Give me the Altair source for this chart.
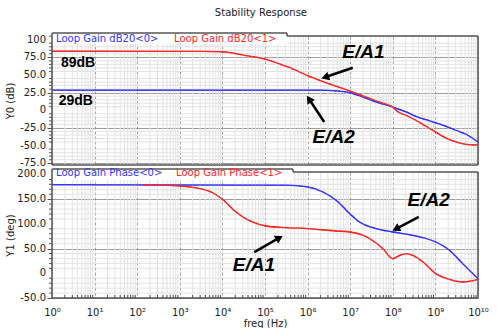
import math
import altair as alt
import pandas as pd

# ---------------- data (decade exponents of frequency, values) ----------------
gain0_exp = [0, 6.3, 6.67, 6.98, 7.29, 7.6, 8.0, 8.31, 8.54, 8.78, 9.01, 9.25, 9.48, 9.72, 10.0]
gain0_val = [28.5, 28.5, 27.5, 25.0, 19.0, 12.0, 4.5, -2.4, -8.5, -13.3, -18.0, -22.7, -28.3, -34.0, -45.0]

gain1_exp = [0, 3.5, 3.9, 4.1, 4.3, 4.6, 5.0, 5.3, 5.6, 6.0, 6.3, 6.6, 7.0, 7.3, 7.6, 7.9, 8.0, 8.1,
             8.31, 8.54, 8.78, 9.01, 9.25, 9.48, 9.72, 10.0]
gain1_val = [83.6, 83.5, 83.2, 82.3, 80.4, 77.0, 72.5, 66.5, 60.0, 49.0, 42.0, 35.5, 27.0, 20.5, 13.5,
             7.5, 4.5, -1.5, -7.0, -14.2, -22.7, -31.0, -39.5, -44.8, -48.2, -49.2]

phase0_exp = [0, 5.49, 6.0, 6.36, 6.67, 6.99, 7.22, 7.61, 8.0, 8.47, 9.01, 9.33, 9.64, 10.0]
phase0_val = [179.5, 178.5, 174.7, 164.6, 147.8, 120.7, 103.8, 90.3, 83.6, 76.9, 63.3, 46.6, 19.6, -10.9]

phase1_exp = [2.13, 2.76, 3.39, 3.77, 4.0, 4.32, 4.5, 4.7, 5.02, 5.49, 6.0, 6.67, 6.99, 7.3, 7.46,
              7.77, 8.0, 8.16, 8.32, 8.47, 8.71, 9.01, 9.33, 9.64, 10.0]
phase1_val = [179.0, 178.0, 172.7, 163.0, 150.0, 124.0, 113.0, 104.0, 95.7, 92.3, 90.3, 85.6, 83.6,
              77.0, 70.0, 49.8, 29.6, 36.4, 39.7, 36.4, 23.0, -0.8, -12.1, -17.6, -12.1]

series_names = ["<0>", "<1>"]
gain_legend = ["Loop Gain dB20<0>", "Loop Gain dB20<1>"]
phase_legend = ["Loop Gain Phase<0>", "Loop Gain Phase<1>"]

# annotations (exponent, value)
top_text = ["E/A1", "E/A2", "89dB", "29dB"]
top_text_exp = [7.31, 6.61, 0.61, 0.56]
top_text_val = [83.0, -37.8, 67.0, 13.2]
top_arrow_tail = [(7.06, 60.3), (6.39, -16.6)]
top_arrow_head = [(6.44, 47.5), (6.05, 14.5)]

bot_text = ["E/A2", "E/A1"]
bot_text_exp = [8.84, 4.74]
bot_text_val = [147.8, 16.2]
bot_arrow_tail = [(8.61, 114.0), (4.75, 43.0)]
bot_arrow_head = [(8.1, 91.0), (5.31, 70.5)]

decade_labels = ["10⁰", "10¹", "10²", "10³", "10⁴", "10⁵", "10⁶", "10⁷", "10⁸", "10⁹", "10¹⁰"]
top_major_y = [-75, -50, -25, 0, 25, 50, 75, 100]
top_major_lbl = ["-75.0", "-50.0", "-25.0", "0", "25.0", "50.0", "75.0", "100"]
top_minor_y = [v for v in range(-75, 106, 5) if v % 25 != 0]
bot_major_y = [-50, 0, 50, 100, 150, 200]
bot_major_lbl = ["-50.0", "0", "50.0", "100.0", "150.0", "200.0"]
bot_minor_y = [v for v in range(-50, 206, 10) if v % 50 != 0]
major_x = [10 ** d for d in range(11)]
minor_x = [k * 10 ** d for d in range(10) for k in range(2, 10)]

# ---------------- styling ----------------
BLUE = "#3333ff"
RED = "#ff2626"
W = 426
H_TOP = 129
H_BOT = 126
PX_DEC = W / 10.0
TOP_DOM = [-77.5, 105.2]
BOT_DOM = [-50.0, 205.0]
FONT = "DejaVu Sans"
TAB_TOP = 235
TAB_BOT = 241
MAJOR_GRID = "#9c9c9c"
MINOR_GRID = "#e3e3e3"


def line_df(exps, vals, name):
    return pd.DataFrame({"freq": [10 ** e for e in exps], "val": vals, "series": name})


gain_df = pd.concat([line_df(gain0_exp, gain0_val, "<0>"), line_df(gain1_exp, gain1_val, "<1>")])
phase_df = pd.concat([line_df(phase0_exp, phase0_val, "<0>"), line_df(phase1_exp, phase1_val, "<1>")])


def arrow_df(tails, heads, ppu):
    rows = []
    for (e1, v1), (e2, v2) in zip(tails, heads):
        dx = (e2 - e1) * PX_DEC
        dy = -(v2 - v1) * ppu
        ang = math.degrees(math.atan2(dx, -dy)) % 360
        rows.append({"freq": 10 ** e1, "val": v1, "freq2": 10 ** e2, "val2": v2, "ang": ang})
    return pd.DataFrame(rows)


labels_arr = "[" + ",".join("'" + s + "'" for s in decade_labels) + "]"
xs = alt.Scale(type="log", domain=[1, 1e10], nice=False)


def x_axis(show_labels):
    kw = dict(
        values=major_x,
        grid=True,
        gridColor=MAJOR_GRID,
        gridDash=[3, 2],
        gridWidth=1,
        ticks=False,
        domain=False,
        labelOverlap=False,
        labelFlush=False,
    )
    if show_labels:
        kw.update(
            labelExpr=labels_arr + "[round(log(datum.value)/LN10)]",
            labelPadding=9,
            title="freq (Hz)",
            titlePadding=1,
        )
    else:
        kw.update(labels=False, title=None)
    return alt.Axis(**kw)


def y_axis(vals, title):
    return alt.Axis(
        values=vals,
        grid=True,
        gridColor=MAJOR_GRID,
        gridWidth=1,
        tickSize=5,
        tickColor="#555",
        domain=False,
        labels=False,
        title=title,
        titlePadding=31,
    )


color_enc = alt.Color("series:N", scale=alt.Scale(domain=series_names, range=[BLUE, RED]), legend=None)
one = alt.Data(values=[{}])


def minor_layers(minor_y, major_y, major_lbl, height, bottom_ticks):
    layers = [
        alt.Chart(pd.DataFrame({"freq": minor_x})).mark_rule(color=MINOR_GRID, strokeWidth=1).encode(
            x="freq:Q"),
        alt.Chart(pd.DataFrame({"val": minor_y})).mark_rule(color=MINOR_GRID, strokeWidth=1).encode(
            y="val:Q"),
        alt.Chart(pd.DataFrame({"val": minor_y})).mark_rule(color="#555", strokeWidth=1).encode(
            y="val:Q", x=alt.value(-3), x2=alt.value(0)),
        alt.Chart(pd.DataFrame({"val": major_y, "lbl": major_lbl})).mark_text(
            font=FONT, fontSize=10, color="#222222", align="right", baseline="middle").encode(
            y="val:Q", x=alt.value(-6), text="lbl:N"),
    ]
    if bottom_ticks:
        layers.append(
            alt.Chart(pd.DataFrame({"freq": minor_x})).mark_rule(color="#555", strokeWidth=1).encode(
                x="freq:Q", y=alt.value(height - 3), y2=alt.value(height)))
    return layers


def frame_layers(height, tab_w):
    st = dict(color="#555555", strokeWidth=1.5)
    return [
        alt.Chart(one).mark_rect(color="white").encode(
            x=alt.value(0), x2=alt.value(tab_w), y=alt.value(-3), y2=alt.value(8)),
        alt.Chart(one).mark_rule(**st).encode(x=alt.value(0), y=alt.value(-3), y2=alt.value(height)),
        alt.Chart(one).mark_rule(**st).encode(x=alt.value(W), y=alt.value(0), y2=alt.value(height)),
        alt.Chart(one).mark_rule(**st).encode(x=alt.value(0), x2=alt.value(W), y=alt.value(height)),
        alt.Chart(one).mark_rule(**st).encode(x=alt.value(tab_w), x2=alt.value(W), y=alt.value(0)),
        alt.Chart(one).mark_rule(**st).encode(x=alt.value(0), x2=alt.value(tab_w), y=alt.value(-3)),
        alt.Chart(one).mark_rule(**st).encode(x=alt.value(tab_w), y=alt.value(-3), y2=alt.value(0)),
    ]


def legend_layers(texts, xs_px, y_px):
    return [
        alt.Chart(one).mark_text(font=FONT, fontSize=10, align="left", baseline="middle",
                                 color=c).encode(x=alt.value(xp), y=alt.value(y_px), text=alt.value(t))
        for t, xp, c in zip(texts, xs_px, [BLUE, RED])
    ]


def annotation_layers(texts, exps, vals, tails, heads, ppu):
    tdf = pd.DataFrame({"freq": [10 ** e for e in exps], "val": vals, "label": texts})
    layers = []
    big = tdf[tdf["label"].str.startswith("E/A")]
    small = tdf[~tdf["label"].str.startswith("E/A")]
    layers.append(alt.Chart(big).mark_text(font="Liberation Sans", fontSize=19, fontWeight="bold",
                                           fontStyle="italic", color="black").encode(
        x="freq:Q", y="val:Q", text="label:N"))
    if len(small):
        layers.append(alt.Chart(small).mark_text(font="Liberation Sans", fontSize=14, fontWeight="bold",
                                                 color="black").encode(
            x="freq:Q", y="val:Q", text="label:N"))
    adf = arrow_df(tails, heads, ppu)
    layers.append(alt.Chart(adf).mark_rule(color="black", strokeWidth=2.5).encode(
        x="freq:Q", x2="freq2:Q", y="val:Q", y2="val2:Q"))
    layers.append(alt.Chart(adf).mark_point(shape="triangle", filled=True, color="black", size=80,
                                            opacity=1).encode(
        x="freq2:Q", y="val2:Q", angle=alt.Angle("ang:Q", scale=None)))
    return layers


top_ppu = H_TOP / (TOP_DOM[1] - TOP_DOM[0])
bot_ppu = H_BOT / (BOT_DOM[1] - BOT_DOM[0])

top_lines = alt.Chart(gain_df).mark_line(strokeWidth=1.3, interpolate="monotone").encode(
    x=alt.X("freq:Q", scale=xs, axis=x_axis(False)),
    y=alt.Y("val:Q", scale=alt.Scale(domain=TOP_DOM, nice=False, zero=False),
            axis=y_axis(top_major_y, "Y0 (dB)")),
    color=color_enc,
)

bot_lines = alt.Chart(phase_df).mark_line(strokeWidth=1.3, interpolate="monotone").encode(
    x=alt.X("freq:Q", scale=xs, axis=x_axis(True)),
    y=alt.Y("val:Q", scale=alt.Scale(domain=BOT_DOM, nice=False, zero=False),
            axis=y_axis(bot_major_y, "Y1 (deg)")),
    color=color_enc,
)

top = alt.layer(
    top_lines,
    *minor_layers(top_minor_y, top_major_y, top_major_lbl, H_TOP, False),
    top_lines.encode(x=alt.X("freq:Q"), y=alt.Y("val:Q")),
    *frame_layers(H_TOP, TAB_TOP),
    *legend_layers(gain_legend, [4, 122], 3),
    *annotation_layers(top_text, top_text_exp, top_text_val, top_arrow_tail, top_arrow_head, top_ppu),
).properties(width=W, height=H_TOP)

bottom = alt.layer(
    bot_lines,
    *minor_layers(bot_minor_y, bot_major_y, bot_major_lbl, H_BOT, True),
    bot_lines.encode(x=alt.X("freq:Q"), y=alt.Y("val:Q")),
    *frame_layers(H_BOT, TAB_BOT),
    *legend_layers(phase_legend, [4, 124], 1),
    *annotation_layers(bot_text, bot_text_exp, bot_text_val, bot_arrow_tail, bot_arrow_head, bot_ppu),
).properties(width=W, height=H_BOT)

chart = alt.vconcat(top, bottom, spacing=7, bounds="flush").properties(
    title=alt.TitleParams("Stability Response", font=FONT, fontSize=10, fontWeight="normal",
                          color="#222222", anchor="middle", offset=14, dx=14),
).configure(
    padding={"left": 5, "top": 8, "right": 0, "bottom": 0},
).configure_view(
    stroke=None,
).configure_axis(
    labelFont=FONT, labelFontSize=10, labelColor="#222222",
    titleFont=FONT, titleFontSize=10, titleFontWeight="normal", titleColor="#222222",
)

chart.save("out.html", embed_options={"renderer": "svg", "actions": False})
